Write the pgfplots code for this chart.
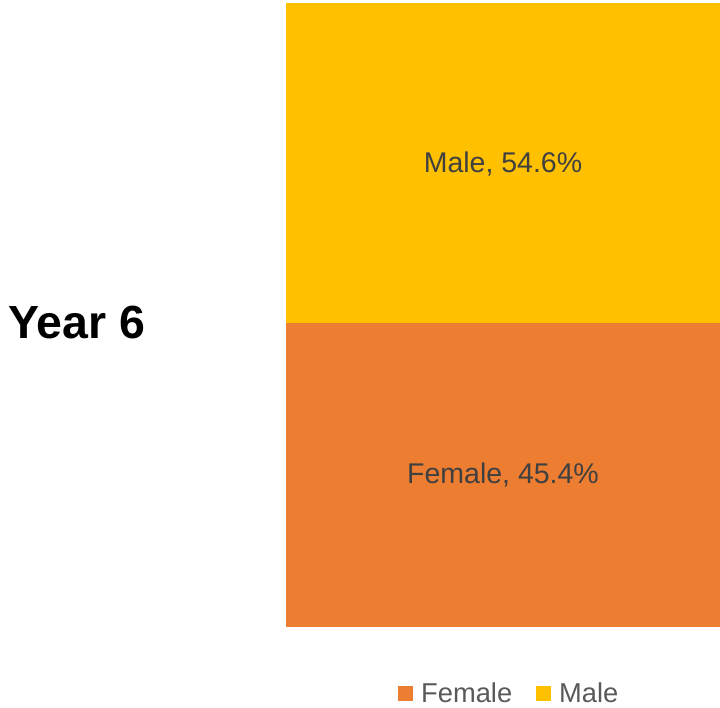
\documentclass[border=0pt]{standalone}
\usepackage{pgfplots}
\pgfplotsset{compat=1.18}
\usepackage{fontspec}
\setmainfont{Liberation Sans}
\definecolor{female}{HTML}{ED7D31}
\definecolor{male}{HTML}{FFC000}
\definecolor{lbl}{HTML}{404040}
\definecolor{leg}{HTML}{595959}
\begin{document}
\begin{tikzpicture}[x=1pt,y=1pt]
\path[use as bounding box] (0,0) rectangle (720,708);
\begin{axis}[
  at={(286pt,81pt)}, anchor=south west,
  scale only axis, width=434pt, height=623pt,
  xmin=-0.5, xmax=0.5, ymin=0, ymax=93.04,
  axis lines=none, ticks=none,
  ybar stacked, bar width=434pt,
  legend columns=2,
  legend style={at={(0.5145,-0.106)}, anchor=center, draw=none, fill=none,
    font=\fontsize{27.3}{30}\selectfont\color{leg},
    /tikz/every even column/.append style={column sep=22pt},
    inner sep=0pt, cells={anchor=base west}},
  legend image code/.code={\fill[#1] (0pt,-8pt) rectangle (15pt,7pt);},
  legend cell align=left,
]
\addplot[fill=female, draw=none] coordinates {(0,45.4)};
\addlegendentry{\hspace{6pt}Female}
\addplot[fill=male, draw=none] coordinates {(0,54.6)};
\addlegendentry{\hspace{6pt}Male}
\coordinate (fl) at (axis cs:0,22.7);
\coordinate (ml) at (axis cs:0,69.2);
\end{axis}
\node[font=\fontsize{28.5}{30}\selectfont, text=lbl] at (fl) {Female, 45.4\%};
\node[font=\fontsize{28.5}{30}\selectfont, text=lbl] at (ml) {Male, 54.6\%};
\node[anchor=base west, inner sep=0pt, font=\fontsize{46.5}{50}\selectfont\bfseries] at (8,369) {Year 6};
\end{tikzpicture}
\end{document}
